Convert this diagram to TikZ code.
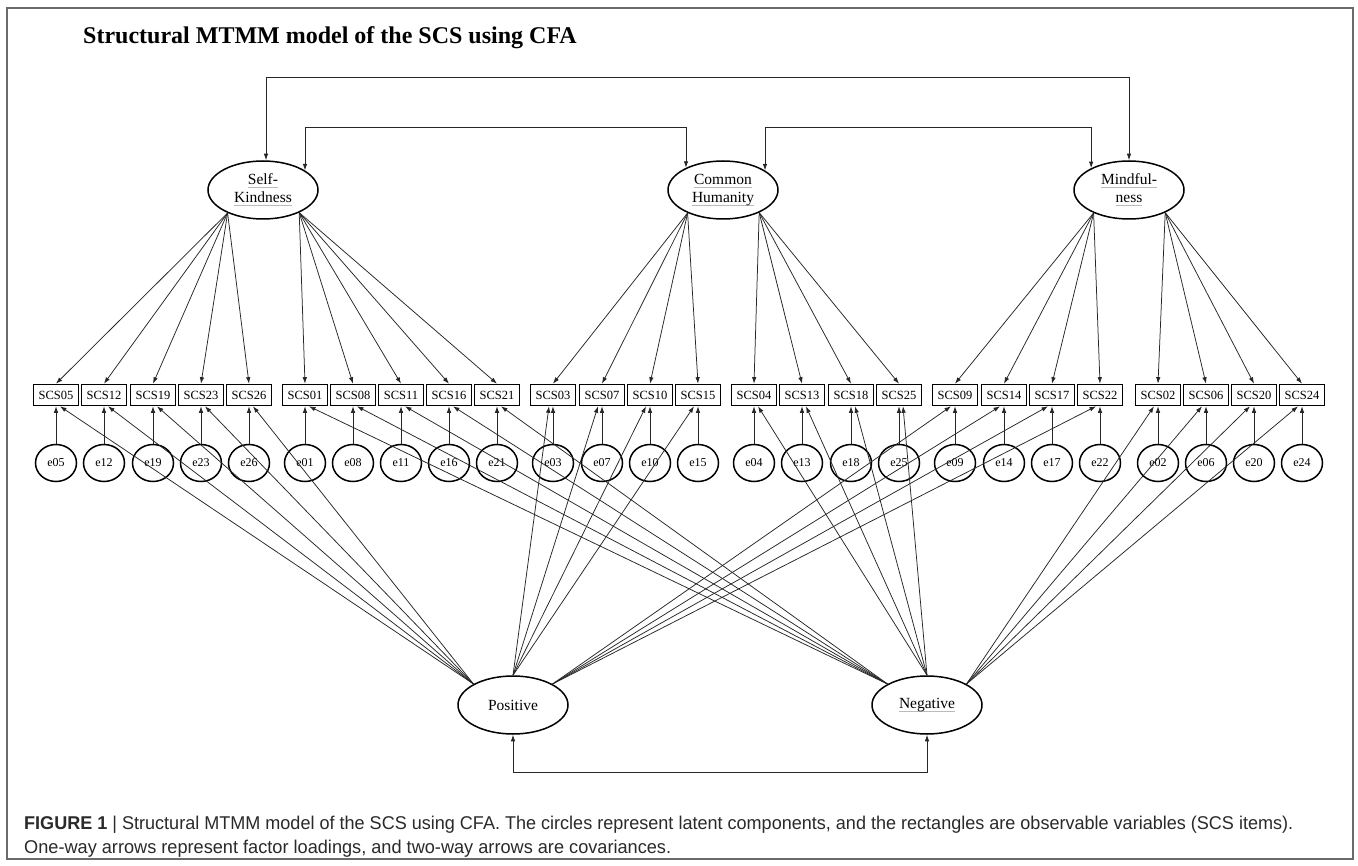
\documentclass[tikz,border=0pt]{standalone}
\usepackage{fontspec}
\setmainfont{Liberation Serif}
\newfontfamily\capfont{Liberation Sans}
\usetikzlibrary{arrows.meta,shapes.geometric}
\definecolor{sqpink}{HTML}{E9A3B5}
\definecolor{capgray}{HTML}{2A2A2A}
\definecolor{framegray}{HTML}{6A6A6A}
\definecolor{linegray}{HTML}{262626}
\newcommand\sqline[1]{\setbox0\hbox{#1}\rlap{\color{sqpink}\rule[-3pt]{\wd0}{0.9pt}}\box0}
\begin{document}
\begin{tikzpicture}[x=1pt,y=-1pt,
  lat/.style={draw,ellipse,line width=1.5pt,minimum width=110pt,minimum height=58pt,inner sep=0pt,align=center,font=\fontsize{15.5}{18}\selectfont},
  obs/.style={draw,rectangle,line width=1.6pt,minimum width=45pt,minimum height=21pt,inner sep=0pt,font=\fontsize{12.5}{14}\selectfont},
  err/.style={draw,ellipse,line width=1.5pt,minimum width=41pt,minimum height=37pt,inner sep=0pt,font=\fontsize{12}{13}\selectfont},
  ld/.style={draw=linegray,-{Latex[length=6.5pt,width=4.5pt]},line width=0.75pt},
  cov/.style={draw=linegray,{Latex[length=6.5pt,width=4.5pt]}-{Latex[length=6.5pt,width=4.5pt]},line width=0.85pt},
]
\useasboundingbox (0,0) rectangle (1358,866);
\fill[white] (0,0) rectangle (1358,866);
\draw[framegray,line width=1.4pt] (7,8) rectangle (1353,859);

\node[anchor=base west,font=\fontsize{24}{28}\selectfont\bfseries,inner sep=0pt] (title) at (83,44) {Structural MTMM model of the SCS using CFA};

% latent factors
\node[lat] (SK) at (263,190) {\sqline{Self-}\\\sqline{Kindness}};
\node[lat] (CH) at (723,190) {\sqline{Common}\\\sqline{Humanity}};
\node[lat] (MF) at (1129,190) {\sqline{Mindful-}\\\sqline{ness}};
\node[lat] (POS) at (513,705) {Positive};
\node[lat] (NEG) at (927,705) {\sqline{Negative}};

% items and errors
\foreach \n/\x in {05/56,12/104,19/153,23/201,26/249,01/305,08/353,11/401,16/449,21/497,03/553,07/602,10/650,15/698,04/754,13/802,18/851,25/899,09/955,14/1004,17/1052,22/1100,02/1158,06/1206,20/1254,24/1302}{
  \node[obs] (b\n) at (\x,395) {SCS\n};
  \node[err] (e\n) at (\x,463) {e\n};
  \draw[ld] (e\n) -- (b\n);
}

% loadings from trait factors
\foreach \n in {05,12,19,23,26} \draw[ld] (SK.213) -- (b\n.north);
\foreach \n in {01,08,11,16,21} \draw[ld] (SK.328) -- (b\n.north);
\foreach \n in {03,07,10,15} \draw[ld] (CH.213) -- (b\n.north);
\foreach \n in {04,13,18,25} \draw[ld] (CH.328) -- (b\n.north);
\foreach \n in {09,14,17,22} \draw[ld] (MF.213) -- (b\n.north);
\foreach \n in {02,06,20,24} \draw[ld] (MF.328) -- (b\n.north);

% loadings from method factors
\foreach \n in {05,12,19,23,26} \draw[ld] (POS.152) -- ([xshift=4pt]b\n.south);
\foreach \n in {03,07,10,15} \draw[ld] (POS.north) -- ([xshift=-4pt]b\n.south);
\foreach \n in {09,14,17,22} \draw[ld] (POS.28) -- ([xshift=-4pt]b\n.south);
\foreach \n in {01,08,11,16,21} \draw[ld] (NEG.152) -- ([xshift=4pt]b\n.south);
\foreach \n in {04,13,18,25} \draw[ld] (NEG.north) -- ([xshift=4pt]b\n.south);
\foreach \n in {02,06,20,24} \draw[ld] (NEG.28) -- ([xshift=-4pt]b\n.south);

% covariances
\coordinate (t1) at (0,77);
\coordinate (t2) at (0,127);
\coordinate (t3) at (0,772);
\draw[cov] ([xshift=3pt]SK.north) -- ([xshift=3pt]SK.north |- t1) -| (MF.north);
\draw[cov] (SK.25) -- (SK.25 |- t2) -| (CH.149);
\draw[cov] (CH.25) -- (CH.25 |- t2) -| (MF.150);
\draw[cov] (POS.south) -- (POS.south |- t3) -| (NEG.south);

% caption
\node[anchor=base west,inner sep=0pt,text=capgray] (cap1) at (24,829) {\resizebox{1269pt}{\height}{\capfont\fontsize{18.5}{21}\selectfont\textbf{FIGURE 1} | Structural MTMM model of the SCS using CFA. The circles represent latent components, and the rectangles are observable variables (SCS items).}};
\node[anchor=base west,inner sep=0pt,text=capgray] (cap2) at (24,853) {\resizebox{647pt}{\height}{\capfont\fontsize{18.5}{21}\selectfont One-way arrows represent factor loadings, and two-way arrows are covariances.}};
\end{tikzpicture}
\end{document}
